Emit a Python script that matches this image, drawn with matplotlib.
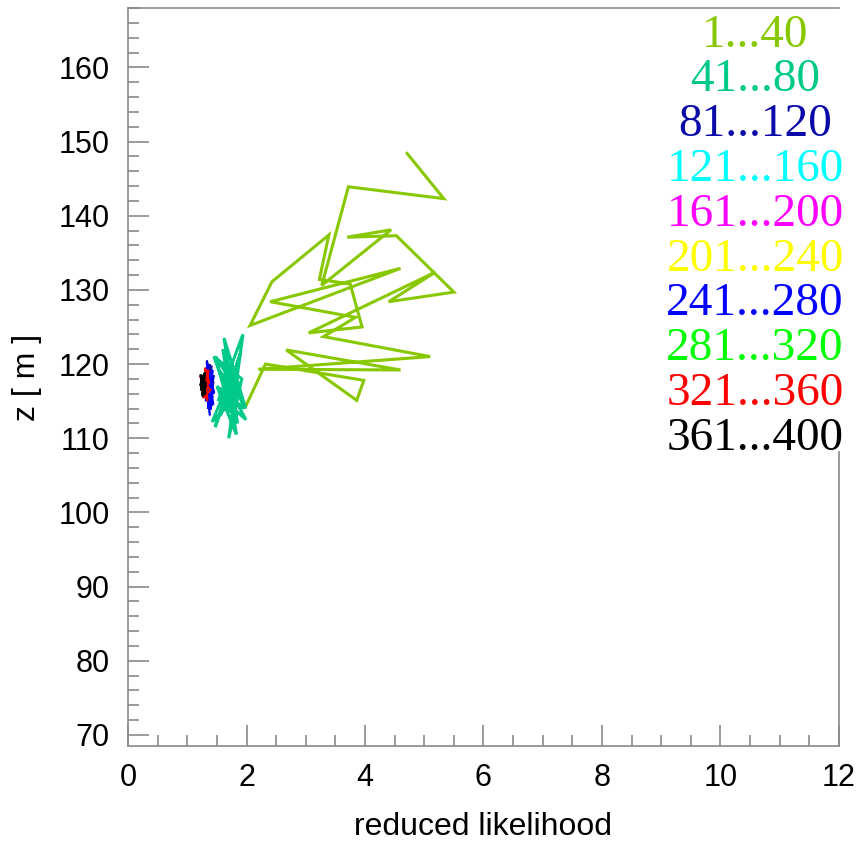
import numpy as np
import matplotlib.pyplot as plt
from matplotlib.ticker import MultipleLocator

# Trajectory of the fit: reduced likelihood vs z, in blocks of 40 iterations
x_1_40 = [4.71, 5.33, 3.72, 3.27, 4.44, 3.70, 4.53, 5.50, 4.40, 5.19, 3.05, 3.95, 3.75, 3.23, 3.39,
          2.43, 2.06, 4.60, 2.40, 3.84, 3.30, 5.10, 2.20, 4.60, 2.67, 3.86, 3.98, 2.32, 1.98]
z_1_40 = [148.4, 142.3, 143.9, 130.6, 138.1, 137.1, 137.3, 129.7, 128.4, 132.4, 124.2, 125.0, 130.8, 131.4, 137.4,
          131.1, 125.2, 132.9, 128.4, 126.3, 123.7, 121.0, 119.3, 119.2, 121.9, 115.1, 117.8, 120.0, 114.2]

x_41_80 = [1.98, 1.62, 1.85, 1.45, 1.92, 1.70, 1.94, 1.52, 1.80, 1.42, 1.88, 1.60, 1.83, 1.50, 1.96,
           1.68, 1.56, 1.90, 1.47, 1.78, 1.64, 1.99, 1.55, 1.86, 1.72, 1.48, 1.91, 1.58, 1.82, 1.66]
z_41_80 = [114.2, 123.5, 112.0, 121.0, 118.0, 110.0, 124.0, 115.0, 119.5, 112.2, 116.0, 122.0, 110.5, 117.0, 114.0,
           120.0, 113.0, 121.5, 111.5, 118.5, 115.0, 112.5, 119.0, 116.5, 113.5, 121.0, 115.5, 118.0, 114.0, 117.0]

x_81_120 = [1.42, 1.30, 1.45, 1.33, 1.40, 1.28, 1.44, 1.35, 1.31, 1.43, 1.29, 1.41, 1.36, 1.45, 1.32, 1.38, 1.30, 1.42]
z_81_120 = [114.5, 119.5, 116.0, 120.5, 114.0, 118.0, 117.5, 115.0, 119.0, 115.5, 117.0, 119.8, 114.8, 118.5, 116.5, 120.0, 115.8, 117.2]

x_121_160 = [1.36, 1.40, 1.34, 1.41, 1.37, 1.33, 1.40, 1.35, 1.39, 1.36]
z_121_160 = [118.5, 116.0, 117.8, 115.8, 119.0, 116.5, 117.5, 115.6, 118.2, 116.8]

x_161_200 = [1.27, 1.33, 1.25, 1.31, 1.28, 1.34, 1.26, 1.30]
z_161_200 = [118.0, 116.8, 117.4, 118.6, 116.2, 117.8, 116.9, 118.3]

x_201_240 = [1.32, 1.29, 1.35, 1.30, 1.33, 1.28, 1.34, 1.31]
z_201_240 = [118.8, 117.2, 118.0, 119.3, 116.9, 118.5, 117.5, 119.0]

x_241_280 = [1.38, 1.30, 1.44, 1.33, 1.41, 1.29, 1.43, 1.35, 1.40, 1.31, 1.45, 1.34, 1.39, 1.37]
z_241_280 = [113.2, 118.2, 114.5, 120.2, 115.5, 116.8, 119.2, 114.0, 117.8, 115.0, 116.2, 119.6, 113.8, 117.0]

x_281_320 = [1.28, 1.34, 1.26, 1.33, 1.29, 1.35, 1.27, 1.32]
z_281_320 = [117.2, 118.4, 116.4, 117.0, 118.8, 116.6, 117.9, 115.9]

x_321_360 = [1.24, 1.36, 1.27, 1.39, 1.22, 1.34, 1.30, 1.37, 1.25, 1.33]
z_321_360 = [117.8, 119.2, 115.4, 116.5, 118.4, 115.0, 119.5, 117.6, 116.0, 118.9]

x_361_400 = [1.24, 1.31, 1.22, 1.30, 1.25, 1.32, 1.23, 1.29, 1.26, 1.31, 1.22, 1.28, 1.25, 1.30, 1.24, 1.29]
z_361_400 = [118.4, 116.0, 117.2, 118.9, 115.8, 117.6, 116.4, 118.2, 115.6, 117.0, 118.6, 116.2, 117.8, 115.9, 116.8, 117.4]

blocks = [
    ("1...40", x_1_40, z_1_40, "#88c800"),
    ("41...80", x_41_80, z_41_80, "#00c98a"),
    ("81...120", x_81_120, z_81_120, "#0a0aa8"),
    ("121...160", x_121_160, z_121_160, "#00ffff"),
    ("161...200", x_161_200, z_161_200, "#ff00ff"),
    ("201...240", x_201_240, z_201_240, "#ffff00"),
    ("241...280", x_241_280, z_241_280, "#0000ff"),
    ("281...320", x_281_320, z_281_320, "#00ff00"),
    ("321...360", x_321_360, z_321_360, "#ff0000"),
    ("361...400", x_361_400, z_361_400, "#000000"),
]

plt.rcParams['font.family'] = ['Liberation Sans', 'DejaVu Sans']

fig = plt.figure(figsize=(8.62, 8.44), dpi=100)
ax = fig.add_axes([0.1485, 0.1161, 0.8248, 0.8744])

for label, xs, zs, col in blocks:
    lw = 2.2 if label in ("1...40", "41...80") else 1.6
    ax.plot(xs, zs, color=col, lw=lw, solid_joinstyle='miter')

ax.set_xlim(0, 12)
ax.set_ylim(68.5, 168)

ax.xaxis.set_major_locator(MultipleLocator(2))
ax.xaxis.set_minor_locator(MultipleLocator(0.5))
ax.yaxis.set_minor_locator(MultipleLocator(2))
ax.set_yticks(np.arange(70, 161, 10))

grey = "#8a8a8a"
ax.tick_params(which='both', direction='in', color=grey, width=1.2, labelsize=22,
               top=False, right=False)
ax.tick_params(which='major', length=15)
ax.tick_params(which='minor', length=8)
ax.tick_params(axis='y', pad=13)
ax.tick_params(axis='x', pad=12)

for s in ax.spines.values():
    s.set_color(grey)
    s.set_linewidth(1.2)
ax.spines['right'].set_bounds(68.5, 108.1)

ax.set_xlabel("reduced likelihood", fontsize=23, labelpad=14)
ax.set_ylabel("z [ m ]", fontsize=23, labelpad=12)

# block legend, coloured text in a column at the top right
for i, (label, xs, zs, col) in enumerate(blocks):
    ax.text(0.882, 0.9476 - i * 0.0607, label, transform=ax.transAxes, ha='center', va='baseline',
            color=col, fontsize=34, family=['Liberation Serif', 'DejaVu Serif'])

fig.savefig("out.png", dpi=100)
